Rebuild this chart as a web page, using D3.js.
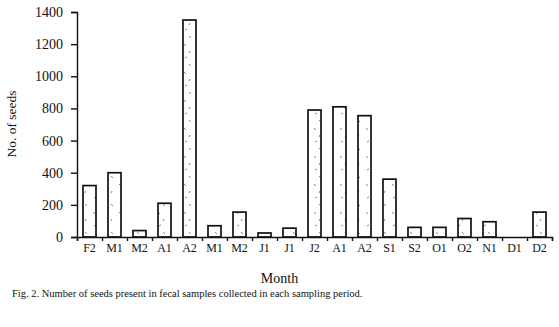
<!DOCTYPE html>
<html>
<head>
<meta charset="utf-8">
<script src="https://cdn.jsdelivr.net/npm/d3@7"></script>
<style>
  body { margin: 0; background: #fff; }
  text { font-family: "Liberation Serif", "Times New Roman", serif; fill: #111; }
</style>
</head>
<body>
<script>
const periods = ["F2", "M1", "M2", "A1", "A2", "M1", "M2", "J1", "J1", "J2",
  "A1", "A2", "S1", "S2", "O1", "O2", "N1", "D1", "D2"];
const seeds = [320, 400, 40, 210, 1350, 70, 155, 25, 55, 790,
  810, 755, 360, 60, 60, 115, 95, 0, 155];
const yTicks = [0, 200, 400, 600, 800, 1000, 1200, 1400];

const margin = { top: 12, right: 7, bottom: 90, left: 77 };
const width = 559 - margin.left - margin.right;
const height = 327 - margin.top - margin.bottom;

const root = d3.select("body").append("svg")
  .attr("width", 559)
  .attr("height", 327);

// sparse dash stipple like the printed bars
const pat = root.append("defs").append("pattern")
  .attr("id", "stipple")
  .attr("patternUnits", "userSpaceOnUse")
  .attr("width", 13)
  .attr("height", 28);
[[3, 4, 5, 6], [9, 11, 8, 13], [4, 18, 6, 17], [8, 24, 10, 26]].forEach(function (s) {
  pat.append("line")
    .attr("x1", s[0]).attr("y1", s[1]).attr("x2", s[2]).attr("y2", s[3])
    .attr("stroke", "#666").attr("stroke-width", 0.8);
});

const svg = root.append("g")
  .attr("transform", "translate(" + margin.left + "," + margin.top + ")");

const x = d3.scaleBand().domain(d3.range(periods.length)).range([0, width]).paddingInner(0.48).paddingOuter(0.24);
const xEdge = d3.scaleLinear().domain([0, periods.length]).range([0, width]);
const y = d3.scaleLinear().domain([0, 1400]).range([height, 0]);

svg.selectAll(".bar")
  .data(seeds)
  .enter()
  .append("rect")
  .attr("class", "bar")
  .attr("x", (d, i) => x(i))
  .attr("y", (d) => y(d))
  .attr("width", x.bandwidth())
  .attr("height", (d) => height - y(d))
  .attr("fill", (d) => (d > 0 ? "url(#stipple)" : "none"))
  .attr("stroke", (d) => (d > 0 ? "#111" : "none"))
  .attr("stroke-width", 1.7);

// x axis: ticks between the periods, labels under each bar
svg.append("g")
  .attr("transform", "translate(0," + height + ")")
  .call(d3.axisBottom(xEdge).tickValues(d3.range(periods.length + 1)).tickSize(4).tickFormat(""))
  .call((g) => g.selectAll("path, line").attr("stroke", "#111").attr("stroke-width", 1.4));

svg.append("g")
  .attr("transform", "translate(0," + height + ")")
  .call(d3.axisBottom(x).tickSize(0).tickPadding(6).tickFormat((i) => periods[i]))
  .call((g) => g.select(".domain").remove())
  .call((g) => g.selectAll("text").style("font-size", "12px"));

svg.append("g")
  .call(d3.axisLeft(y).tickValues(yTicks).tickSize(6).tickPadding(8).tickFormat(d3.format("d")))
  .call((g) => g.selectAll("path, line").attr("stroke", "#111").attr("stroke-width", 1.4))
  .call((g) => g.selectAll("text").style("font-size", "14px"));

svg.append("text")
  .attr("x", width / 2 - 35)
  .attr("y", height + 46)
  .attr("text-anchor", "middle")
  .style("font-size", "14px")
  .text("Month");

svg.append("text")
  .attr("transform", "rotate(-90)")
  .attr("x", -112)
  .attr("y", -61)
  .attr("text-anchor", "middle")
  .style("font-size", "13.5px")
  .text("No. of seeds");

root.append("text")
  .attr("x", 12)
  .attr("y", 297)
  .style("font-size", "10.5px")
  .text("Fig. 2. Number of seeds present in fecal samples collected in each sampling period.");
</script>
</body>
</html>
